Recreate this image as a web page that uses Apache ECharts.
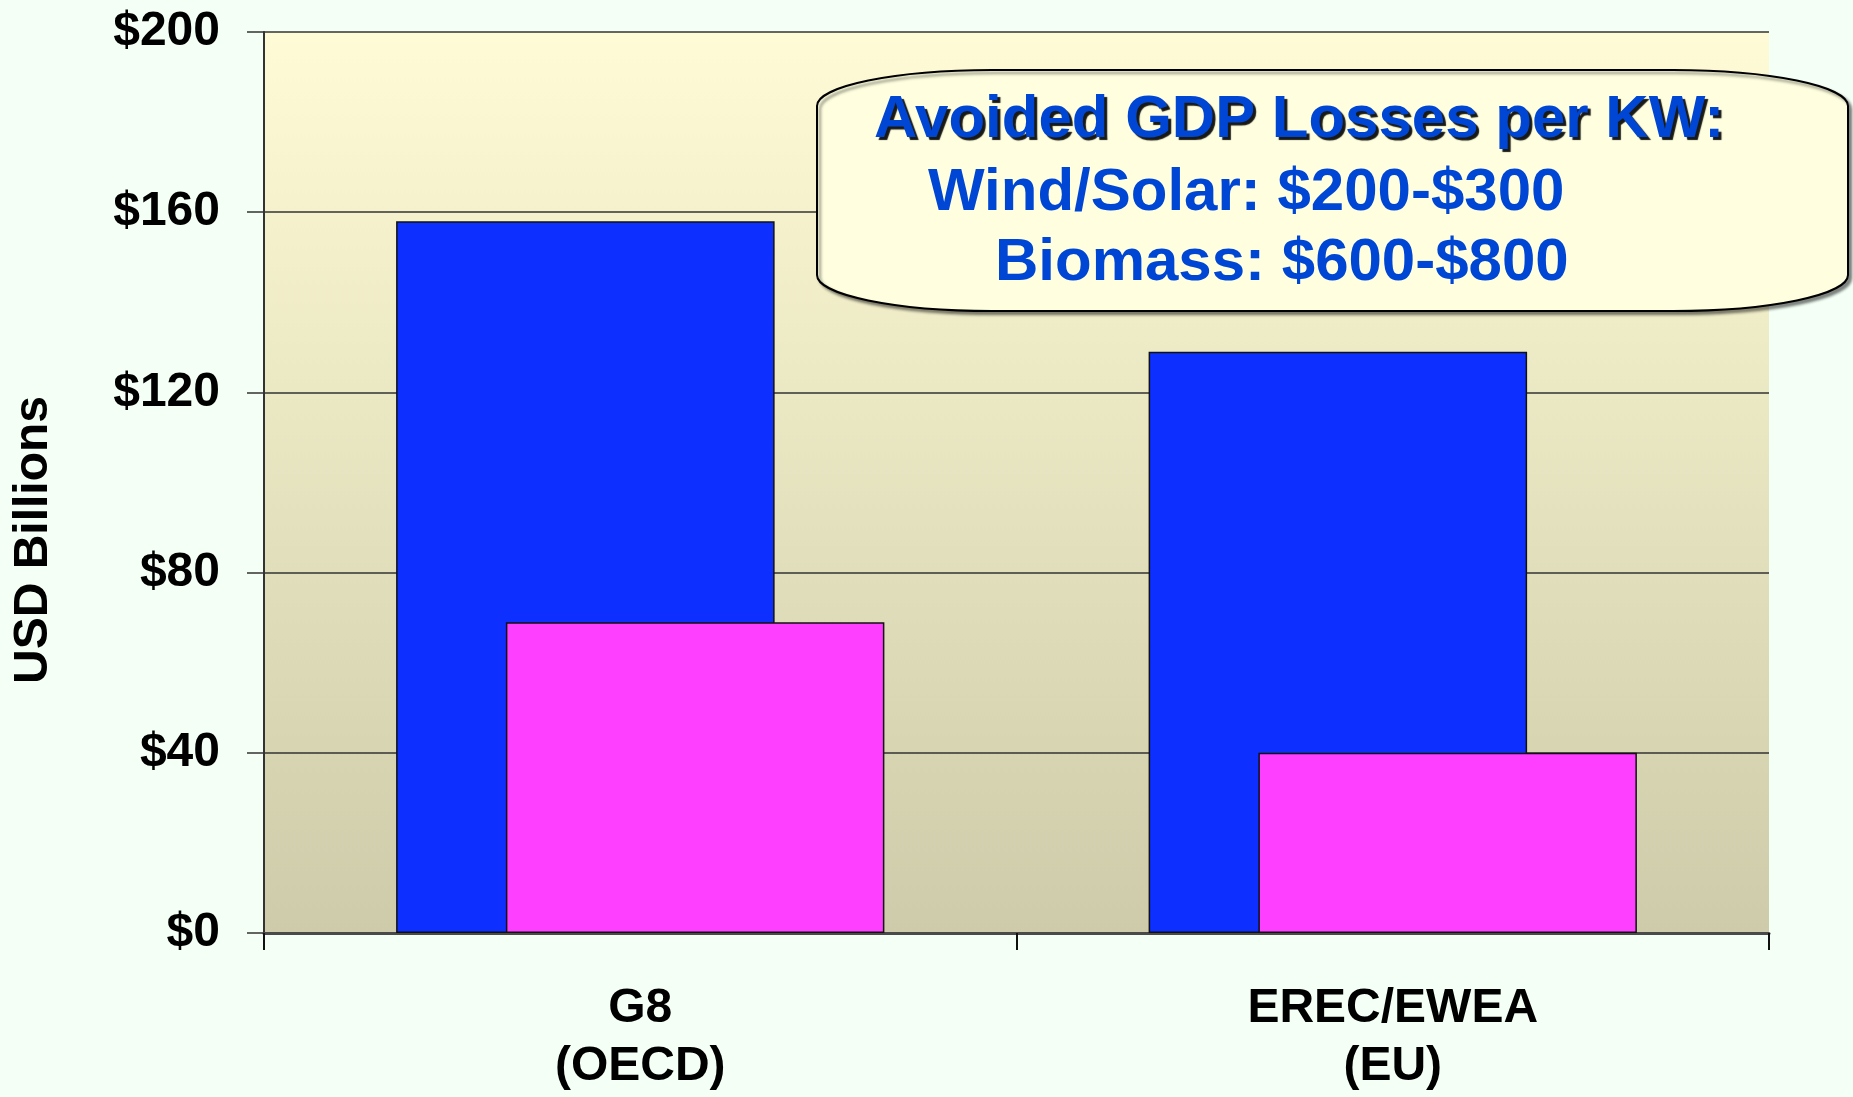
<!DOCTYPE html>
<html>
<head>
<meta charset="utf-8">
<script src="https://cdn.jsdelivr.net/npm/echarts@6/dist/echarts.min.js"></script>
<style>
html,body{margin:0;padding:0;background:#F4FFF6;}
#chart{width:1853px;height:1097px;}
</style>
</head>
<body>
<div id="chart"></div>
<script>
// ---- data ----
const categories = ['G8\n(OECD)', 'EREC/EWEA\n(EU)'];
const seriesA = [158, 129];   // blue bars
const seriesB = [69, 40];     // magenta bars
const yTicks = [0, 40, 80, 120, 160, 200];
const yAxisName = 'USD Billions';
const noteLines = ['Avoided GDP Losses per KW:', 'Wind/Solar: $200-$300', 'Biomass: $600-$800'];

const FONT = '"Liberation Sans", Arial, sans-serif';
const chart = echarts.init(document.getElementById('chart'), null, {renderer: 'canvas'});

// callout box (elliptical corners)
const bx0 = 817, bx1 = 1848, by0 = 70, by1 = 311, rx = 175, ry = 36;
const boxPath = `M${bx0+rx} ${by0} L${bx1-rx} ${by0} A${rx} ${ry} 0 0 1 ${bx1} ${by0+ry} L${bx1} ${by1-ry} A${rx} ${ry} 0 0 1 ${bx1-rx} ${by1} L${bx0+rx} ${by1} A${rx} ${ry} 0 0 1 ${bx0} ${by1-ry} L${bx0} ${by0+ry} A${rx} ${ry} 0 0 1 ${bx0+rx} ${by0} Z`;
echarts.graphic.registerShape('calloutBox', echarts.graphic.extendPath(boxPath, {}));

const option = {
  backgroundColor: '#F4FFF6',
  animation: false,
  grid: {
    left: 264, right: 84, top: 32, bottom: 164,
    show: true,
    borderWidth: 0,
    backgroundColor: new echarts.graphic.LinearGradient(0, 0, 0, 1, [
      {offset: 0, color: '#FFFBD6'}, {offset: 1, color: '#CDCBA9'}
    ])
  },
  xAxis: {
    type: 'category',
    data: categories,
    axisLine: {show: true, lineStyle: {color: '#4a4a4a', width: 3}},
    axisTick: {show: true, length: 17, lineStyle: {color: '#111', width: 2}},
    axisLabel: {
      margin: 47,
      color: '#000',
      fontFamily: FONT,
      fontWeight: 'bold',
      fontSize: 48,
      lineHeight: 58
    },
    splitLine: {show: false}
  },
  yAxis: {
    type: 'value',
    min: yTicks[0],
    max: yTicks[yTicks.length - 1],
    interval: yTicks[1] - yTicks[0],
    axisLine: {show: true, lineStyle: {color: '#333', width: 2}},
    axisTick: {show: true, length: 17, lineStyle: {color: '#333', width: 1.5}},
    axisLabel: {
      margin: 44,
      color: '#000',
      fontFamily: FONT,
      fontWeight: 'bold',
      fontSize: 48,
      formatter: v => '$' + v
    },
    splitLine: {show: true, lineStyle: {color: '#333', width: 1.5}}
  },
  series: [
    {
      type: 'bar',
      data: seriesA,
      barWidth: '50.3%',
      barGap: '-71%',
      itemStyle: {color: '#0D2FFF', borderColor: '#111', borderWidth: 1.5}
    },
    {
      type: 'bar',
      data: seriesB,
      barWidth: '50.3%',
      itemStyle: {color: '#FF3FFF', borderColor: '#111', borderWidth: 1.5}
    }
  ],
  graphic: [
    {
      type: 'text',
      x: 34, y: 540,
      rotation: Math.PI / 2,
      style: {
        text: yAxisName,
        fill: '#000',
        font: 'bold 48px ' + FONT,
        align: 'center',
        verticalAlign: 'middle'
      }
    },
    {
      type: 'calloutBox',
      z: 100,
      style: {
        fill: '#FFFFE0',
        stroke: '#000',
        lineWidth: 2,
        shadowColor: 'rgba(0,0,0,0.45)',
        shadowBlur: 3,
        shadowOffsetX: 3,
        shadowOffsetY: 3
      }
    },
    {
      type: 'text',
      z: 101,
      x: 874, y: 120,
      style: {
        text: noteLines[0],
        fill: '#0046D5',
        font: 'bold 60px ' + FONT,
        align: 'left',
        verticalAlign: 'middle',
        textShadowColor: 'rgba(0,0,0,0.9)',
        textShadowBlur: 1,
        textShadowOffsetX: 3,
        textShadowOffsetY: 3
      }
    },
    {
      type: 'text',
      z: 101,
      x: 928, y: 193,
      style: {
        text: noteLines[1],
        fill: '#0046D5',
        font: 'bold 60px ' + FONT,
        align: 'left',
        verticalAlign: 'middle'
      }
    },
    {
      type: 'text',
      z: 101,
      x: 995, y: 263,
      style: {
        text: noteLines[2],
        fill: '#0046D5',
        font: 'bold 60px ' + FONT,
        align: 'left',
        verticalAlign: 'middle'
      }
    }
  ]
};
chart.setOption(option);
</script>
</body>
</html>
